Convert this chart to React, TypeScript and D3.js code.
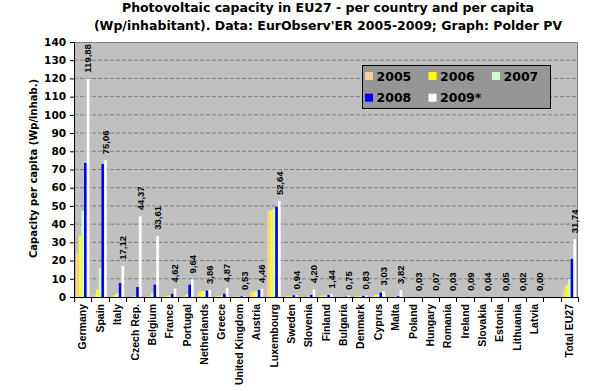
import React from "react";
import * as d3 from "d3";

const categories = ["Germany","Spain","Italy","Czech Rep.","Belgium","France","Portugal","Netherlands","Greece","United Kingdom","Austria","Luxembourg","Sweden","Slovenia","Finland","Bulgaria","Denmark","Cyprus","Malta","Poland","Hungary","Romania","Ireland","Slovakia","Estonia","Lithuania","Latvia","","Total EU27"];
const seriesNames = ["2005","2006","2007","2008","2009*"];
const seriesColors = ["#FFCC99","#FFFF00","#CCFFCC","#0000FF","#FFFFFF"];

const v2005 = [23.6,1.1,0.6,0.05,0.2,0.5,0.3,3.2,0.5,0.2,2.9,47.3,0.5,0.1,0.8,0,0.5,0.5,0.05,0,0,0,0.05,0,0.03,0,0,null,4.4];
const v2006 = [33.7,4.2,1.0,0.1,0.4,0.6,0.3,3.2,0.6,0.2,3.1,47.8,0.5,0.1,0.8,0,0.55,1.2,0.1,0,0,0,0.07,0,0.03,0,0,null,6.6];
const v2007 = [47.3,16.0,2.2,0.4,2.2,0.8,1.4,3.2,0.8,0.3,3.3,48.5,0.6,0.5,0.9,0.05,0.6,1.5,0.3,0,0.01,0,0.07,0,0.03,0,0,null,9.9];
const v2008 = [73.6,73.0,7.7,5.5,6.8,1.8,6.8,3.5,1.8,0.4,3.9,49.6,0.9,1.1,1.1,0.2,0.6,2.4,0.5,0.02,0.05,0.01,0.08,0.01,0.04,0.01,0,null,20.9];
const v2009 = [119.88,75.06,17.12,44.37,33.61,4.62,9.64,3.86,4.87,0.53,4.46,52.64,0.94,4.20,1.44,0.75,0.83,3.03,3.82,0.03,0.07,0.03,0.09,0.04,0.05,0.02,0.00,null,31.74];
const seriesValues = [v2005, v2006, v2007, v2008, v2009];
const yTicks = d3.range(0, 141, 10);

const titleLines = ["Photovoltaic capacity in EU27 - per country and per capita","(Wp/inhabitant). Data: EurObserv'ER 2005-2009; Graph: Polder PV"];
const yTitle = "Capacity per capita (Wp/inhab.)";

export default function App() {
  const W = 591, H = 391;
  const left = 74, right = 578, top = 42, bottom = 297;
  const x = d3.scaleBand<string>().domain(categories.map((c, i) => String(i))).range([left, right]).padding(0);
  const xs = d3.scaleBand<string>().domain(seriesNames).range([0, x.step()]).paddingInner(0).paddingOuter(0.72);
  const y = d3.scaleLinear().domain([0, 140]).range([bottom, top]);
  const bold = "bold";
  const verd = "'DejaVu Sans', Verdana, sans-serif";
  const arial = "'Liberation Sans', Arial, sans-serif";
  const boundaries = d3.range(categories.length + 1).map(i => left + i * x.step());

  return (
    <svg width={W} height={H} style={{ position: "absolute", left: 0, top: 0, background: "#fff" }}>
      <rect x={0} y={0} width={W} height={H} fill="#fff" />
      {titleLines.map((t, i) => (
        <text key={i} x={328} y={12 + i * 17.5} textAnchor="middle" fontFamily={verd} fontWeight={bold} fontSize={12.5} fill="#000">{t}</text>
      ))}
      <rect x={left} y={top} width={right - left} height={bottom - top} fill="#C0C0C0" />
      {yTicks.filter(t => t > 0 && t < 140).map(t => (
        <line key={t} x1={left} x2={right} y1={y(t)} y2={y(t)} stroke="#808080" strokeDasharray="4,2" />
      ))}
      <line x1={left} x2={right} y1={top + 0.5} y2={top + 0.5} stroke="#808080" />
      <line x1={right - 0.5} x2={right - 0.5} y1={top} y2={bottom} stroke="#808080" />
      {categories.map((c, i) => (
        <g key={i} transform={`translate(${x(String(i))},0)`}>
          {seriesValues.map((vals, s) => {
            const v = vals[i];
            if (v == null) return null;
            return <rect key={s} x={xs(seriesNames[s])} y={y(v)} width={xs.bandwidth()} height={bottom - y(v)} fill={seriesColors[s]} />;
          })}
        </g>
      ))}
      {categories.map((c, i) => {
        const v = v2009[i];
        if (v == null) return null;
        const cx = (x(String(i)) as number) + (xs(seriesNames[4]) as number) + xs.bandwidth() / 2;
        const ty = y(v) - 6;
        return (
          <text key={i} transform={`translate(${cx},${ty}) rotate(-90)`} dy="0.35em" fontFamily={arial} fontWeight={bold} fontSize={9.5} fill="#000">{v.toFixed(2).replace(".", ",")}</text>
        );
      })}
      <line x1={left + 0.5} x2={left + 0.5} y1={top} y2={bottom} stroke="#000" />
      <line x1={left} x2={right} y1={bottom + 0.5} y2={bottom + 0.5} stroke="#000" />
      {yTicks.map(t => (
        <g key={t}>
          <line x1={left - 4} x2={left} y1={y(t) + 0.5} y2={y(t) + 0.5} stroke="#000" />
          <text x={66} y={y(t)} dy="0.36em" textAnchor="end" fontFamily={verd} fontWeight={bold} fontSize={10.5} fill="#000">{t}</text>
        </g>
      ))}
      {boundaries.map((b, i) => (
        <line key={i} x1={Math.round(b) + 0.5} x2={Math.round(b) + 0.5} y1={bottom} y2={bottom + 5} stroke="#000" />
      ))}
      {categories.map((c, i) => (
        <text key={i} transform={`translate(${(x(String(i)) as number) + x.step() / 2},${304}) rotate(-90)`} dy="0.35em" textAnchor="end" fontFamily={arial} fontWeight={bold} fontSize={10.5} fill="#000">{c}</text>
      ))}
      <text transform={`translate(33,${(top + bottom) / 2 - 1}) rotate(-90)`} dy="0.35em" textAnchor="middle" fontFamily={verd} fontWeight={bold} fontSize={10} fill="#000">{yTitle}</text>
      <rect x={362.5} y={65.5} width={188} height={43} fill="#969696" stroke="#000" />
      {seriesNames.map((s, i) => {
        const col = i % 3, row = Math.floor(i / 3);
        const lx = 365 + col * 63.5, ly = 72 + row * 21.7;
        return (
          <g key={s}>
            <rect x={lx} y={ly} width={8} height={8} fill={seriesColors[i]} />
            <text x={lx + 11.5} y={ly + 4} dy="0.36em" fontFamily={verd} fontWeight={bold} fontSize={12.5} fill="#000">{s}</text>
          </g>
        );
      })}
    </svg>
  );
}
